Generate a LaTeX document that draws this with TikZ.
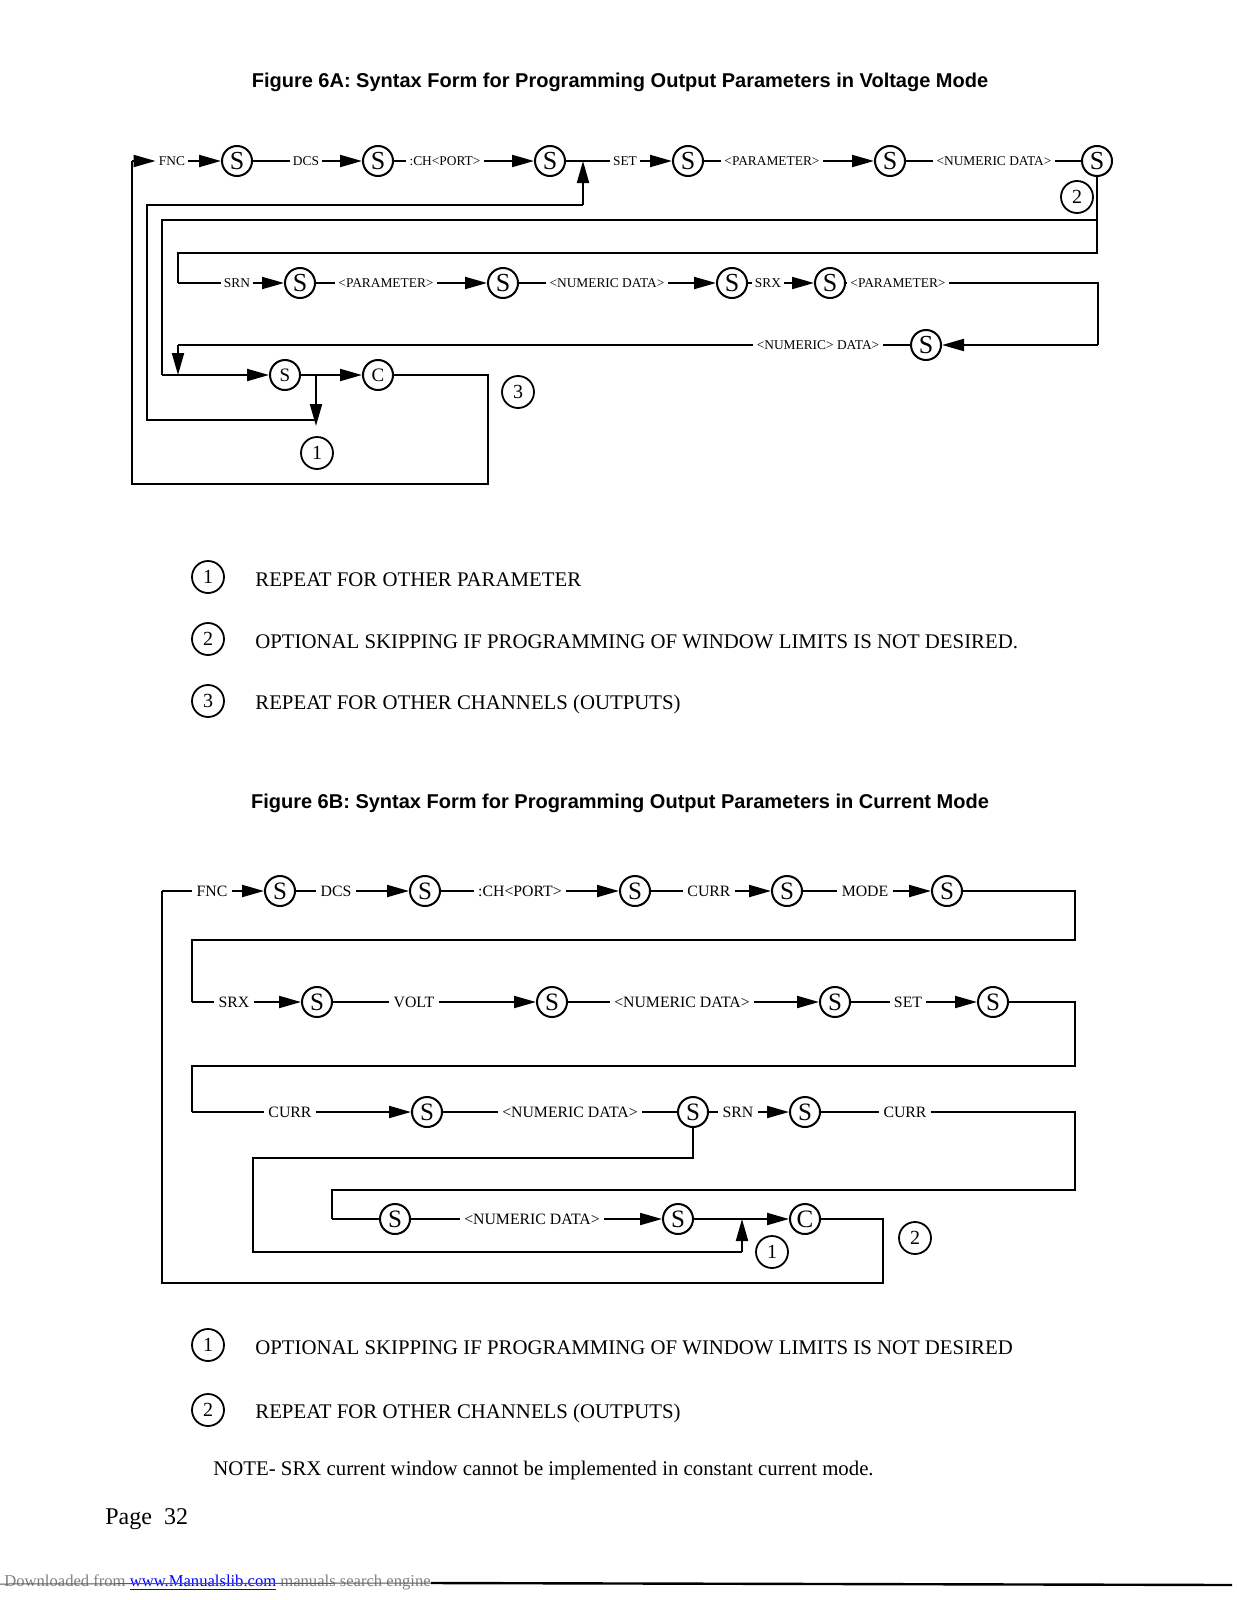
\documentclass[tikz,border=0pt]{standalone}
\usepackage{fontspec}
\setmainfont{Liberation Serif}
\newfontfamily\ttlfont{Liberation Sans}
\usetikzlibrary{arrows.meta}
\begin{document}
\begin{tikzpicture}[x=0.5pt,y=-0.5pt,
  ln/.style={line width=1pt},
  arr/.style={ln,-{Triangle[length=11pt,width=6pt]}},
  sA/.style={circle,draw,line width=1pt,minimum size=15pt,inner sep=0pt,font=\fontsize{13}{13}\selectfont},
  sB/.style={circle,draw,line width=1pt,minimum size=15pt,inner sep=0pt,font=\fontsize{9.5}{9.5}\selectfont},
  sC/.style={circle,draw,line width=1pt,minimum size=15pt,inner sep=0pt,font=\fontsize{12.5}{12.5}\selectfont},
  lA/.style={inner sep=1.5pt,font=\fontsize{6.7}{7}\selectfont},
  lB/.style={inner sep=2pt,font=\fontsize{7.9}{8}\selectfont},
  cn/.style={circle,draw,line width=0.9pt,minimum size=16pt,inner sep=0pt,font=\fontsize{10}{10}\selectfont},
  leg/.style={anchor=west,inner sep=0pt,font=\fontsize{10.4}{12}\selectfont},
  ttl/.style={inner sep=0pt,font=\ttlfont\bfseries\fontsize{10}{12}\selectfont}
]
\useasboundingbox (0,0) rectangle (1237,1600);
\fill[white] (0,0) rectangle (1237,1600);

% ================= Figure 6A =================
\node[ttl] (t6a) at (620,82) {Figure 6A: Syntax Form for Programming Output Parameters in Voltage Mode};

% row 1
\coordinate (a0) at (132,161);
\node[lA] (fnc) at (172,161) {FNC};
\node[sA] (s1) at (237,161) {S};
\node[lA] (dcs) at (306,161) {DCS};
\node[sA] (s2) at (378,161) {S};
\node[lA] (chp) at (445,161) {:CH<PORT>};
\node[sA] (s3) at (550,161) {S};
\coordinate (j1) at (583,161);
\node[lA] (set) at (625,161) {SET};
\node[sA] (s4) at (688,161) {S};
\node[lA] (par1) at (772,161) {<PARAMETER>};
\node[sA] (s5) at (890,161) {S};
\node[lA] (num1) at (994,161) {<NUMERIC DATA>};
\node[sA] (s6) at (1097,161) {S};

\draw[arr] (a0) -- (fnc.west);
\draw[arr] (fnc.east) -- (s1.west);
\draw[ln] (s1.east) -- (dcs.west);
\draw[arr] (dcs.east) -- (s2.west);
\draw[ln] (s2.east) -- (chp.west);
\draw[arr] (chp.east) -- (s3.west);
\draw[ln] (s3.east) -- (set.west);
\draw[arr] (set.east) -- (s4.west);
\draw[ln] (s4.east) -- (par1.west);
\draw[arr] (par1.east) -- (s5.west);
\draw[ln] (s5.east) -- (num1.west);
\draw[ln] (num1.east) -- (s6.west);

% skip lines from last S
\coordinate (k1) at (1097,220);
\coordinate (k2) at (1097,253);
\draw[ln] (s6.south) -- (k2) -- (178,253) -- (178,283);
\draw[ln] (k1) -- (162,220) -- (162,375);

% row 2
\node[lA] (srn) at (237,283) {SRN};
\node[sA] (s7) at (300,283) {S};
\node[lA] (par2) at (386,283) {<PARAMETER>};
\node[sA] (s8) at (503,283) {S};
\node[lA] (num2) at (607,283) {<NUMERIC DATA>};
\node[sA] (s9) at (732,283) {S};
\node[lA] (srx) at (768,283) {SRX};
\node[sA] (s10) at (830,283) {S};
\node[lA] (par3) at (898,283) {<PARAMETER>};
\node[sA] (s11) at (926,345) {S};
\node[lA] (num3) at (818,345) {<NUMERIC> DATA>};

\draw[ln] (178,283) -- (srn.west);
\draw[arr] (srn.east) -- (s7.west);
\draw[ln] (s7.east) -- (par2.west);
\draw[arr] (par2.east) -- (s8.west);
\draw[ln] (s8.east) -- (num2.west);
\draw[arr] (num2.east) -- (s9.west);
\draw[ln] (s9.east) -- (srx.west);
\draw[arr] (srx.east) -- (s10.west);
\draw[ln] (s10.east) -- (par3.west);
\draw[ln] (par3.east) -- (1098,283) -- (1098,345);
\draw[arr] (1098,345) -- (s11.east);
\draw[ln] (s11.west) -- (num3.east);
\draw[ln] (num3.west) -- (178,345);
\draw[arr] (178,345) -- (178,375);

% row 3
\node[sB] (sb) at (285,375) {S};
\node[sB] (cb) at (378,375) {C};
\coordinate (j2) at (316,375);
\draw[arr] (162,375) -- (sb.west);
\draw[ln] (sb.east) -- (j2);
\draw[arr] (j2) -- (cb.west);
\draw[arr] (j2) -- (316,426);
% loop (1)
\draw[ln] (316,420) -- (147,420) -- (147,205) -- (583,205);
\draw[arr] (583,205) -- (j1);
% loop (3)
\draw[ln] (cb.east) -- (488,375) -- (488,484) -- (132,484) -- (a0);

\node[cn] (n2a) at (1077,197) {2};
\node[cn] (n3a) at (518,392) {3};
\node[cn] (n1a) at (317,453) {1};

% legend 6A
\node[cn] (la1) at (208,577) {1};
\node[leg] (lt1) at (255,580) {REPEAT FOR OTHER PARAMETER};
\node[cn] (la2) at (208,639) {2};
\node[leg] (lt2) at (255,642) {OPTIONAL SKIPPING IF PROGRAMMING OF WINDOW LIMITS IS NOT DESIRED.};
\node[cn] (la3) at (208,701) {3};
\node[leg] (lt3) at (255,704) {REPEAT FOR OTHER CHANNELS (OUTPUTS)};

% ================= Figure 6B =================
\node[ttl] (t6b) at (620,803) {Figure 6B: Syntax Form for Programming Output Parameters in Current Mode};

% row 1
\coordinate (b0) at (162,891);
\node[lB] (fnc2) at (212,891) {FNC};
\node[sC] (t1) at (280,891) {S};
\node[lB] (dcs2) at (336,891) {DCS};
\node[sC] (t2) at (425,891) {S};
\node[lB] (chp2) at (520,891) {:CH<PORT>};
\node[sC] (t3) at (635,891) {S};
\node[lB] (cur1) at (709,891) {CURR};
\node[sC] (t4) at (787,891) {S};
\node[lB] (mode) at (865,891) {MODE};
\node[sC] (t5) at (947,891) {S};

\draw[ln] (b0) -- (fnc2.west);
\draw[arr] (fnc2.east) -- (t1.west);
\draw[ln] (t1.east) -- (dcs2.west);
\draw[arr] (dcs2.east) -- (t2.west);
\draw[ln] (t2.east) -- (chp2.west);
\draw[arr] (chp2.east) -- (t3.west);
\draw[ln] (t3.east) -- (cur1.west);
\draw[arr] (cur1.east) -- (t4.west);
\draw[ln] (t4.east) -- (mode.west);
\draw[arr] (mode.east) -- (t5.west);
\draw[ln] (t5.east) -- (1075,891) -- (1075,940) -- (192,940) -- (192,1002);

% row 2
\node[lB] (srx2) at (234,1002) {SRX};
\node[sC] (t6) at (317,1002) {S};
\node[lB] (volt) at (414,1002) {VOLT};
\node[sC] (t7) at (552,1002) {S};
\node[lB] (num4) at (682,1002) {<NUMERIC DATA>};
\node[sC] (t8) at (835,1002) {S};
\node[lB] (set2) at (908,1002) {SET};
\node[sC] (t9) at (993,1002) {S};

\draw[ln] (192,1002) -- (srx2.west);
\draw[arr] (srx2.east) -- (t6.west);
\draw[ln] (t6.east) -- (volt.west);
\draw[arr] (volt.east) -- (t7.west);
\draw[ln] (t7.east) -- (num4.west);
\draw[arr] (num4.east) -- (t8.west);
\draw[ln] (t8.east) -- (set2.west);
\draw[arr] (set2.east) -- (t9.west);
\draw[ln] (t9.east) -- (1075,1002) -- (1075,1066) -- (192,1066) -- (192,1112);

% row 3
\node[lB] (cur2) at (290,1112) {CURR};
\node[sC] (t10) at (427,1112) {S};
\node[lB] (num5) at (570,1112) {<NUMERIC DATA>};
\node[sC] (t11) at (693,1112) {S};
\node[lB] (srn2) at (738,1112) {SRN};
\node[sC] (t12) at (805,1112) {S};
\node[lB] (cur3) at (905,1112) {CURR};

\draw[ln] (192,1112) -- (cur2.west);
\draw[arr] (cur2.east) -- (t10.west);
\draw[ln] (t10.east) -- (num5.west);
\draw[ln] (num5.east) -- (t11.west);
\draw[ln] (t11.east) -- (srn2.west);
\draw[arr] (srn2.east) -- (t12.west);
\draw[ln] (t12.east) -- (cur3.west);
\draw[ln] (cur3.east) -- (1075,1112) -- (1075,1190) -- (332,1190) -- (332,1219);

% row 4
\node[sC] (t13) at (395,1219) {S};
\node[lB] (num6) at (532,1219) {<NUMERIC DATA>};
\node[sC] (t14) at (678,1219) {S};
\coordinate (j3) at (742,1219);
\node[sC] (c2) at (805,1219) {C};

\draw[ln] (332,1219) -- (t13.west);
\draw[ln] (t13.east) -- (num6.west);
\draw[arr] (num6.east) -- (t14.west);
\draw[ln] (t14.east) -- (j3);
\draw[arr] (j3) -- (c2.west);
% skip (1)
\draw[ln] (t11.south) -- (693,1158) -- (253,1158) -- (253,1252) -- (742,1252);
\draw[arr] (742,1252) -- (j3);
% loop (2)
\draw[ln] (c2.east) -- (883,1219) -- (883,1283) -- (162,1283) -- (b0);

\node[cn] (n1b) at (772,1252) {1};
\node[cn] (n2b) at (915,1238) {2};

% legend 6B
\node[cn] (lb1) at (208,1345) {1};
\node[leg] (lt4) at (255,1348) {OPTIONAL SKIPPING IF PROGRAMMING OF WINDOW LIMITS IS NOT DESIRED};
\node[cn] (lb2) at (208,1410) {2};
\node[leg] (lt5) at (255,1413) {REPEAT FOR OTHER CHANNELS (OUTPUTS)};

\node[leg] (note) at (213,1470) {NOTE- SRX current window cannot be implemented in constant current mode.};
\node[anchor=west,inner sep=0pt,font=\fontsize{12}{14}\selectfont] (page) at (105,1519) {Page\ \ 32};

% footer
\node[anchor=west,inner sep=0pt,font=\fontsize{8.3}{9}\selectfont] (foot) at (4,1583)
  {\textcolor{gray}{Downloaded from}\ \textcolor{blue}{\underline{www.Manualslib.com}}\ \textcolor{gray}{manuals search engine}};
\draw[gray!70!black,line width=0.5pt] (0,1584) -- (foot.east);
\draw[black,line width=1.2pt] (foot.east) -- (1232,1585);
\end{tikzpicture}
\end{document}
